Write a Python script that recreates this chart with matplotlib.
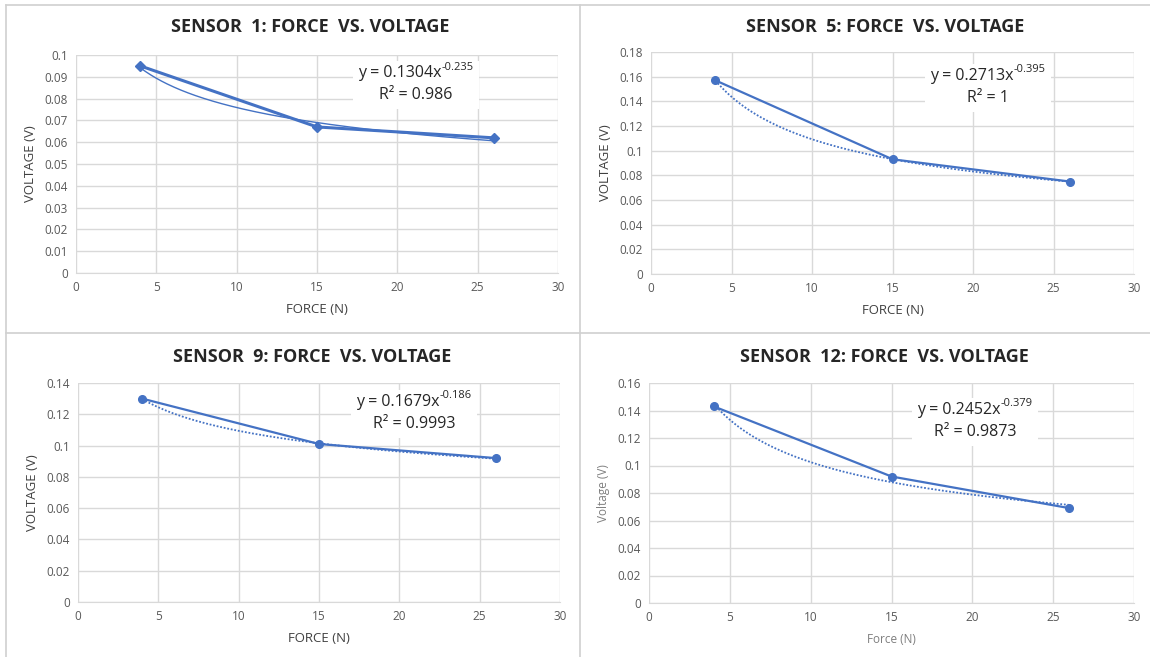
import numpy as np
import matplotlib
matplotlib.use("Agg")
import matplotlib.pyplot as plt
from matplotlib.lines import Line2D
from matplotlib.patches import Rectangle

plt.rcParams['font.family'] = ['Open Sans', 'DejaVu Sans']

force = [4, 15, 26]

# sensor readings (V)
sensor_names = ["SENSOR  1: FORCE  VS. VOLTAGE", "SENSOR  5: FORCE  VS. VOLTAGE",
                "SENSOR  9: FORCE  VS. VOLTAGE", "SENSOR  12: FORCE  VS. VOLTAGE"]
volt_s1 = [0.095, 0.067, 0.062]
volt_s5 = [0.157, 0.093, 0.075]
volt_s9 = [0.130, 0.101, 0.092]
volt_s12 = [0.143, 0.092, 0.069]

# power trendlines as printed on the charts: y = a * x^b
fit_a = ["0.1304", "0.2713", "0.1679", "0.2452"]
fit_b = ["-0.235", "-0.395", "-0.186", "-0.379"]
fit_r2 = ["0.986", "1", "0.9993", "0.9873"]

y_max = [0.1, 0.18, 0.14, 0.16]
y_step = [0.01, 0.02, 0.02, 0.02]

blue = "#4472C4"
grid_c = "#D9D9D9"
tick_c = "#595959"

W, H = 1150, 657
fig = plt.figure(figsize=(11.5, 6.57), dpi=100)

def fx(px):
    return px / W

def fy(py):
    return 1 - py / H

# panel borders
for (x0, y0, x1, y1) in [(6, 5, 1150, 5), (6, 5, 6, 657), (580, 5, 580, 657), (6, 333, 1150, 333)]:
    fig.add_artist(Line2D([fx(x0), fx(x1)], [fy(y0), fy(y1)], color="#D0D0D0", lw=1.2))

# axes boxes in pixels: left, top, right, bottom
boxes = [(76, 55, 558, 273), (651, 52, 1134, 274), (78, 383, 560, 602), (649, 383, 1134, 603)]
title_y = [27, 27, 357, 357]
eq_pos = [(416, 73), (988, 76), (414, 402), (975, 410)]

volts = [volt_s1, volt_s5, volt_s9, volt_s12]
renderer = fig.canvas.get_renderer()

for i, (l, t, r, b) in enumerate(boxes):
    ax = fig.add_axes([fx(l), fy(b), fx(r - l), (b - t) / H])
    v = volts[i]
    a = float(fit_a[i])
    p = float(fit_b[i])
    xs = np.linspace(force[0], force[-1], 200)
    ys = a * xs ** p
    if i == 0:
        ax.plot(xs, ys, color=blue, lw=1.0, zorder=3)
        ax.plot(force, v, color=blue, lw=2.2, marker="D", ms=5, zorder=4)
    else:
        ax.plot(xs, ys, color=blue, lw=1.3, ls=(0, (1, 1)), zorder=3)
        ax.plot(force, v, color=blue, lw=1.6, marker="o", ms=5.5, zorder=4)

    ax.set_xlim(0, 30)
    ax.set_ylim(0, y_max[i])
    ax.set_xticks(range(0, 31, 5))
    yt = np.round(np.arange(0, y_max[i] + y_step[i] / 2, y_step[i]), 3)
    ax.set_yticks(yt)
    ax.set_yticklabels(["%g" % val for val in yt])
    ax.grid(True, color=grid_c, lw=1.0)
    ax.set_axisbelow(True)
    for s in ["top", "right", "left"]:
        ax.spines[s].set_visible(False)
    ax.spines["bottom"].set_color(grid_c)
    ax.tick_params(length=0, colors=tick_c, labelsize=8.5, pad=6)

    if i == 3:
        ax.set_xlabel("Force (N)", fontsize=8.5, color="#7F7F7F", labelpad=6)
        ax.set_ylabel("Voltage (V)", fontsize=8.5, color="#7F7F7F", labelpad=5)
    else:
        ax.set_xlabel("FORCE (N)", fontsize=9.5, color="#404040", labelpad=6)
        ax.set_ylabel("VOLTAGE (V)", fontsize=9.5, color="#404040", labelpad=5)

    cx = fx((l + r) / 2)
    fig.text(cx - 0.006, fy(title_y[i]), sensor_names[i], ha="center", va="center",
             fontsize=13, fontweight="bold", color="#262626")

    # trendline label: base text plus a small superscript, centred as one line
    ex, ey = eq_pos[i]
    base = fig.text(0, fy(ey), "y = %sx" % fit_a[i], ha="left", va="center",
                    fontsize=11.5, color="#262626", zorder=6)
    sup = fig.text(0, fy(ey - 6), fit_b[i], ha="left", va="center",
                   fontsize=8, color="#262626", zorder=6)
    wb = base.get_window_extent(renderer).width
    ws = sup.get_window_extent(renderer).width
    x_start = ex - (wb + ws) / 2
    base.set_x(fx(x_start))
    sup.set_x(fx(x_start + wb))
    fig.text(fx(ex), fy(ey + 22), "R² = %s" % fit_r2[i], ha="center", va="center",
             fontsize=11.5, color="#262626", zorder=6)
    fig.add_artist(Rectangle((fx(x_start - 5), fy(ey + 36)), fx(wb + ws + 10), 48 / H,
                             transform=fig.transFigure, facecolor="white",
                             edgecolor="none", zorder=5))

fig.savefig("out.png", dpi=100, facecolor="white")
